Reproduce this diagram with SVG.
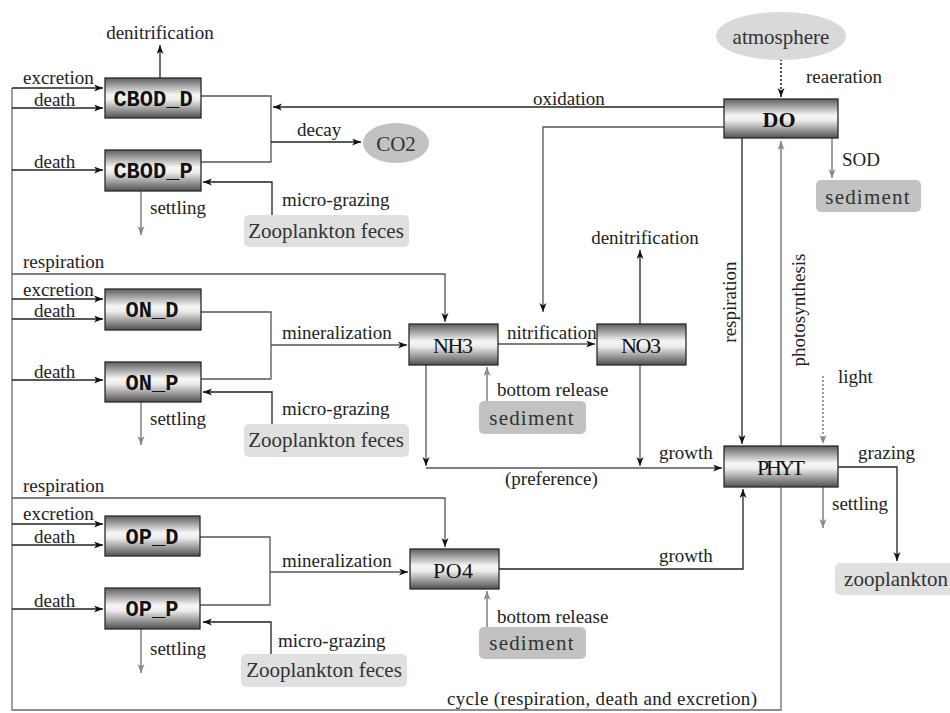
<svg xmlns="http://www.w3.org/2000/svg" width="950" height="713" viewBox="0 0 950 713">
<defs>
<linearGradient id="boxg" x1="0" y1="0" x2="0" y2="1">
<stop offset="0" stop-color="#5e5e5e"/>
<stop offset="0.42" stop-color="#f6f6f6"/>
<stop offset="0.55" stop-color="#ececec"/>
<stop offset="1" stop-color="#505050"/>
</linearGradient>
<marker id="ah" markerWidth="10" markerHeight="8" refX="9" refY="3.5" orient="auto" markerUnits="userSpaceOnUse">
<path d="M0,0 L9,3.5 L0,7 L2.5,3.5 z" fill="#111"/>
</marker>
<marker id="ahg" markerWidth="10" markerHeight="8" refX="9" refY="3.5" orient="auto" markerUnits="userSpaceOnUse">
<path d="M0,0 L9,3.5 L0,7 L2.5,3.5 z" fill="#888"/>
</marker>
<style>
.box{fill:url(#boxg);stroke:#2a2a2a;stroke-width:1.3}
.mono{font-family:"Liberation Mono",monospace;font-weight:bold;font-size:22px;fill:#111;text-anchor:middle}
.ser{font-family:"Liberation Serif",serif;font-size:22px;fill:#111;text-anchor:middle}
.lbl{font-family:"Liberation Serif",serif;font-size:19px;fill:#222}
.lg{fill:#d9d9d9}
.dg{fill:#c2c2c2}
.big{font-family:"Liberation Serif",serif;font-size:21px;fill:#333;text-anchor:middle}
.k{fill:none;stroke:#222;stroke-width:1.3}
.d{fill:none;stroke:#555;stroke-width:1.3}
.g{fill:none;stroke:#888;stroke-width:1.6}
</style>
</defs>
<g id="connectors">
<path class="d" d="M12,88 V710 H781 V141" marker-end="url(#ahg)" style="stroke:#6a6a6a"/>
<path class="k" d="M12,88 H103" marker-end="url(#ah)"/>
<path class="k" d="M12,108 H103" marker-end="url(#ah)"/>
<path class="k" d="M12,170 H103" marker-end="url(#ah)"/>
<path class="k" d="M12,299 H103" marker-end="url(#ah)"/>
<path class="k" d="M12,319 H103" marker-end="url(#ah)"/>
<path class="k" d="M12,380 H103" marker-end="url(#ah)"/>
<path class="k" d="M12,524 H103" marker-end="url(#ah)"/>
<path class="k" d="M12,545 H103" marker-end="url(#ah)"/>
<path class="k" d="M12,609 H103" marker-end="url(#ah)"/>
<path class="d" d="M12,274 H445 V322" marker-end="url(#ah)"/>
<path class="d" d="M12,498 H445 V547" marker-end="url(#ah)"/>
<path class="k" d="M160,78 V45" marker-end="url(#ah)"/>
<path class="d" d="M201,96 H271 V162 H201"/>
<path class="k" d="M724,107 H273" marker-end="url(#ah)"/>
<path class="k" d="M271,142 H361" marker-end="url(#ah)"/>
<path class="k" d="M272,215 V182 H203" marker-end="url(#ah)"/>
<path class="g" d="M141,191 V235" marker-end="url(#ahg)"/>
<path class="d" d="M201,312 H271 V379 H201"/>
<path class="d" d="M271,345 H407" marker-end="url(#ah)"/>
<path class="k" d="M272,424 V392 H203" marker-end="url(#ah)"/>
<path class="g" d="M141,402 V445" marker-end="url(#ahg)"/>
<path class="d" d="M200,537 H270 V605 H200"/>
<path class="d" d="M270,572 H408" marker-end="url(#ah)"/>
<path class="k" d="M271,654 V622 H203" marker-end="url(#ah)"/>
<path class="g" d="M141,629 V673" marker-end="url(#ahg)"/>
<path d="M781,59 V97" fill="none" stroke="#222" stroke-width="1.6" stroke-dasharray="2,2" marker-end="url(#ah)"/>
<path class="d" d="M724,127 H543 V312" marker-end="url(#ah)"/>
<path class="k" d="M742,138 V444" marker-end="url(#ah)"/>
<path class="g" d="M832,138 V178" marker-end="url(#ahg)"/>
<path class="d" d="M498,344 H595" marker-end="url(#ah)"/>
<path class="k" d="M640,324 V250" marker-end="url(#ah)"/>
<path class="d" d="M426,365 V466" marker-end="url(#ah)"/>
<path class="d" d="M640,365 V466" marker-end="url(#ah)"/>
<path class="d" d="M426,468 H722" marker-end="url(#ah)"/>
<path class="g" d="M487,401 V367" marker-end="url(#ahg)"/>
<path class="k" d="M499,569 H743 V489" marker-end="url(#ah)"/>
<path class="g" d="M487,627 V591" marker-end="url(#ahg)"/>
<path d="M823,376 V444" fill="none" stroke="#888" stroke-width="1.6" stroke-dasharray="2,2" marker-end="url(#ahg)"/>
<path class="k" d="M838,467 H897 V561" marker-end="url(#ah)"/>
<path class="g" d="M823,487 V528" marker-end="url(#ahg)"/>
</g>
<g id="labels" class="lbl">
<text x="160" y="39" text-anchor="middle">denitrification</text>
<text x="23" y="84">excretion</text>
<text x="34" y="106">death</text>
<text x="34" y="168">death</text>
<text x="297" y="136">decay</text>
<text x="282" y="206">micro-grazing</text>
<text x="150" y="214">settling</text>
<text x="533" y="105">oxidation</text>
<text x="806" y="83">reaeration</text>
<text x="842" y="166">SOD</text>
<text x="23" y="268">respiration</text>
<text x="23" y="296">excretion</text>
<text x="34" y="317">death</text>
<text x="282" y="339">mineralization</text>
<text x="34" y="378">death</text>
<text x="282" y="415">micro-grazing</text>
<text x="150" y="425">settling</text>
<text x="507" y="339">nitrification</text>
<text x="645" y="244" text-anchor="middle">denitrification</text>
<text x="497" y="396">bottom release</text>
<text x="659" y="459">growth</text>
<text x="505" y="485">(preference)</text>
<text x="736" y="302" text-anchor="middle" transform="rotate(-90 736 302)">respiration</text>
<text x="805" y="310" text-anchor="middle" transform="rotate(-90 805 310)">photosynthesis</text>
<text x="838" y="383">light</text>
<text x="858" y="459">grazing</text>
<text x="832" y="510">settling</text>
<text x="23" y="492">respiration</text>
<text x="23" y="520">excretion</text>
<text x="34" y="543">death</text>
<text x="282" y="567">mineralization</text>
<text x="34" y="607">death</text>
<text x="278" y="647">micro-grazing</text>
<text x="150" y="655">settling</text>
<text x="659" y="562">growth</text>
<text x="497" y="623">bottom release</text>
<text x="447" y="705" textLength="310">cycle (respiration, death and excretion)</text>
</g>
<g id="atmosphere"><ellipse class="lg" cx="781" cy="36" rx="65" ry="24"/><text class="big" x="781" y="44">atmosphere</text></g>
<g id="CO2"><ellipse class="dg" cx="396" cy="143" rx="33" ry="20"/><text class="big" x="396" y="151">CO2</text></g>
<g id="sediment_DO"><rect class="dg" x="816" y="180" width="105" height="32" rx="5"/><text class="big" x="868" y="204" letter-spacing="1.2">sediment</text></g>
<g id="feces_CBOD"><rect class="lg" x="244" y="215" width="165" height="32" rx="5" style="fill:#e0e0e0"/><text class="big" x="326" y="238">Zooplankton feces</text></g>
<g id="feces_ON"><rect class="lg" x="244" y="424" width="165" height="33" rx="5" style="fill:#e0e0e0"/><text class="big" x="326" y="447">Zooplankton feces</text></g>
<g id="feces_OP"><rect class="lg" x="241" y="654" width="166" height="33" rx="5" style="fill:#e0e0e0"/><text class="big" x="324" y="677">Zooplankton feces</text></g>
<g id="sediment_NH3"><rect class="dg" x="479" y="401" width="107" height="33" rx="5"/><text class="big" x="532" y="425" letter-spacing="1.2">sediment</text></g>
<g id="sediment_PO4"><rect class="dg" x="479" y="627" width="107" height="32" rx="5"/><text class="big" x="532" y="650" letter-spacing="1.2">sediment</text></g>
<g id="zooplankton"><rect class="lg" x="835" y="563" width="120" height="32" rx="5" style="fill:#e0e0e0"/><text class="big" x="896" y="586">zooplankton</text></g>
<g id="CBOD_D"><rect class="box" x="105" y="78" width="96" height="40"/><text class="mono" x="153" y="106">CBOD_D</text></g>
<g id="CBOD_P"><rect class="box" x="105" y="150" width="96" height="41"/><text class="mono" x="153" y="178">CBOD_P</text></g>
<g id="ON_D"><rect class="box" x="105" y="289" width="96" height="41"/><text class="mono" x="152" y="317">ON_D</text></g>
<g id="ON_P"><rect class="box" x="105" y="362" width="96" height="40"/><text class="mono" x="152" y="390">ON_P</text></g>
<g id="OP_D"><rect class="box" x="105" y="516" width="95" height="40"/><text class="mono" x="152" y="544">OP_D</text></g>
<g id="OP_P"><rect class="box" x="105" y="588" width="95" height="41"/><text class="mono" x="152" y="616">OP_P</text></g>
<g id="NH3"><rect class="box" x="409" y="324" width="89" height="41"/><text class="ser" x="453" y="353" textLength="40">NH3</text></g>
<g id="NO3"><rect class="box" x="597" y="324" width="89" height="41"/><text class="ser" x="641" y="353" textLength="40">NO3</text></g>
<g id="PO4"><rect class="box" x="410" y="549" width="89" height="40"/><text class="ser" x="453" y="578" textLength="40">PO4</text></g>
<g id="DO"><rect class="box" x="724" y="99" width="114" height="39"/><text class="ser" x="779" y="127" font-weight="bold" font-size="20">DO</text></g>
<g id="PHYT"><rect class="box" x="724" y="446" width="114" height="41"/><text class="ser" x="781" y="475" textLength="48">PHYT</text></g>
</svg>
